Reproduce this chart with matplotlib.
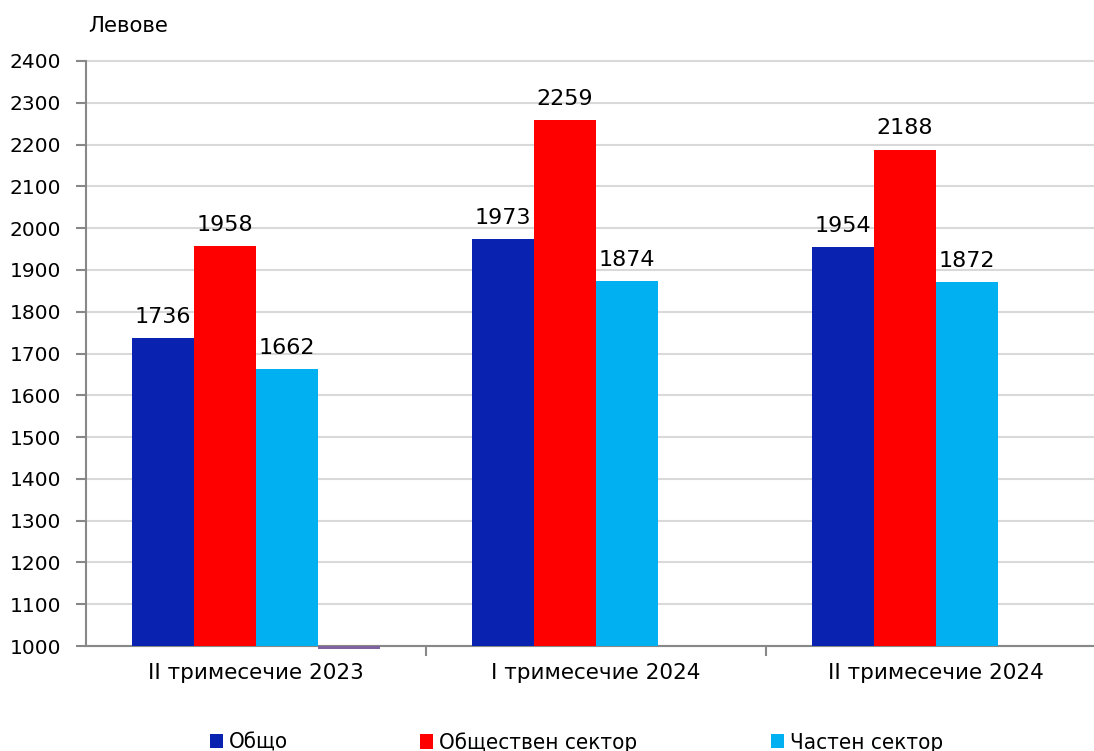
import matplotlib
matplotlib.use("Agg")
import matplotlib.pyplot as plt
import numpy as np

categories = ["II тримесечие 2023", "I тримесечие 2024", "II тримесечие 2024"]
series_names = ["Общо", "Обществен сектор", "Частен сектор"]
total = [1736, 1973, 1954]
public = [1958, 2259, 2188]
private = [1662, 1874, 1872]
extra = [994, np.nan, np.nan]  # stray tiny 4th-series mark in the original
colors = ["#0a22b0", "#ff0000", "#00b0f0", "#8064a2"]

plt.rcParams['font.family'] = ['DejaVu Sans']
fig = plt.figure(figsize=(10.94, 7.51), dpi=100)
W, H = 1094, 751
x0, x1, ytop, ybot = 86, 1106, 61, 646
ax = fig.add_axes([x0 / W, 1 - ybot / H, (x1 - x0) / W, (ybot - ytop) / H])

x = np.arange(len(categories))
width = 62 / 340
offsets = np.array([-1.5, -0.5, 0.5, 1.5]) * width
base = 1000
data = [total, public, private]
handles = []
for i, vals in enumerate(data):
    vals = np.array(vals, dtype=float)
    bars = ax.bar(x + offsets[i], vals - base, width=width, bottom=base,
                  color=colors[i], label=series_names[i], zorder=3)
    handles.append(bars)
    for xi, v in zip(x + offsets[i], vals):
        ax.annotate(f"{int(v)}", (xi, v), xytext=(0, 8), textcoords="offset points",
                    ha="center", va="bottom", fontsize=16, color="black")
ev = np.array(extra, dtype=float)
ax.bar(x + offsets[3], ev - base, width=width, bottom=base, color=colors[3],
       zorder=4, clip_on=False)

ax.set_ylim(1000, 2400)
ax.set_xlim(-0.5, 2.5)
ax.set_yticks(np.arange(1000, 2401, 100))
ax.tick_params(axis='y', labelsize=14.5, length=7, color="#888888", pad=11, width=1.5)
ax.set_xticks(x)
ax.set_xticklabels(categories, fontsize=15.5)
ax.tick_params(axis='x', which='major', length=0, pad=12)
ax.set_xticks([0.5, 1.5], minor=True)
ax.tick_params(axis='x', which='minor', length=7, color="#888888", width=1.5)
ax.grid(axis='y', color="#d9d9d9", linewidth=1.5, zorder=0)
for gl in ax.yaxis.get_gridlines():
    gl.set_clip_on(False)
for s in ["top", "right"]:
    ax.spines[s].set_visible(False)
for s in ["left", "bottom"]:
    ax.spines[s].set_color("#888888")
    ax.spines[s].set_linewidth(1.5)

fig.text(88 / W, 1 - 26 / H, "Левове", fontsize=15.3, va="center", ha="left")

leg_x = [210, 420, 771]
for h, name, lx in zip(handles, series_names, leg_x):
    leg = fig.legend([h], [name], loc="center left", bbox_to_anchor=(lx / W, 1 - 743 / H),
                     frameon=False, handlelength=0.6, handleheight=0.6,
                     handletextpad=0.25, borderaxespad=0, borderpad=0,
                     prop={'family': 'DejaVu Sans', 'stretch': 'condensed', 'size': 16})

fig.savefig("out.png", dpi=100)
